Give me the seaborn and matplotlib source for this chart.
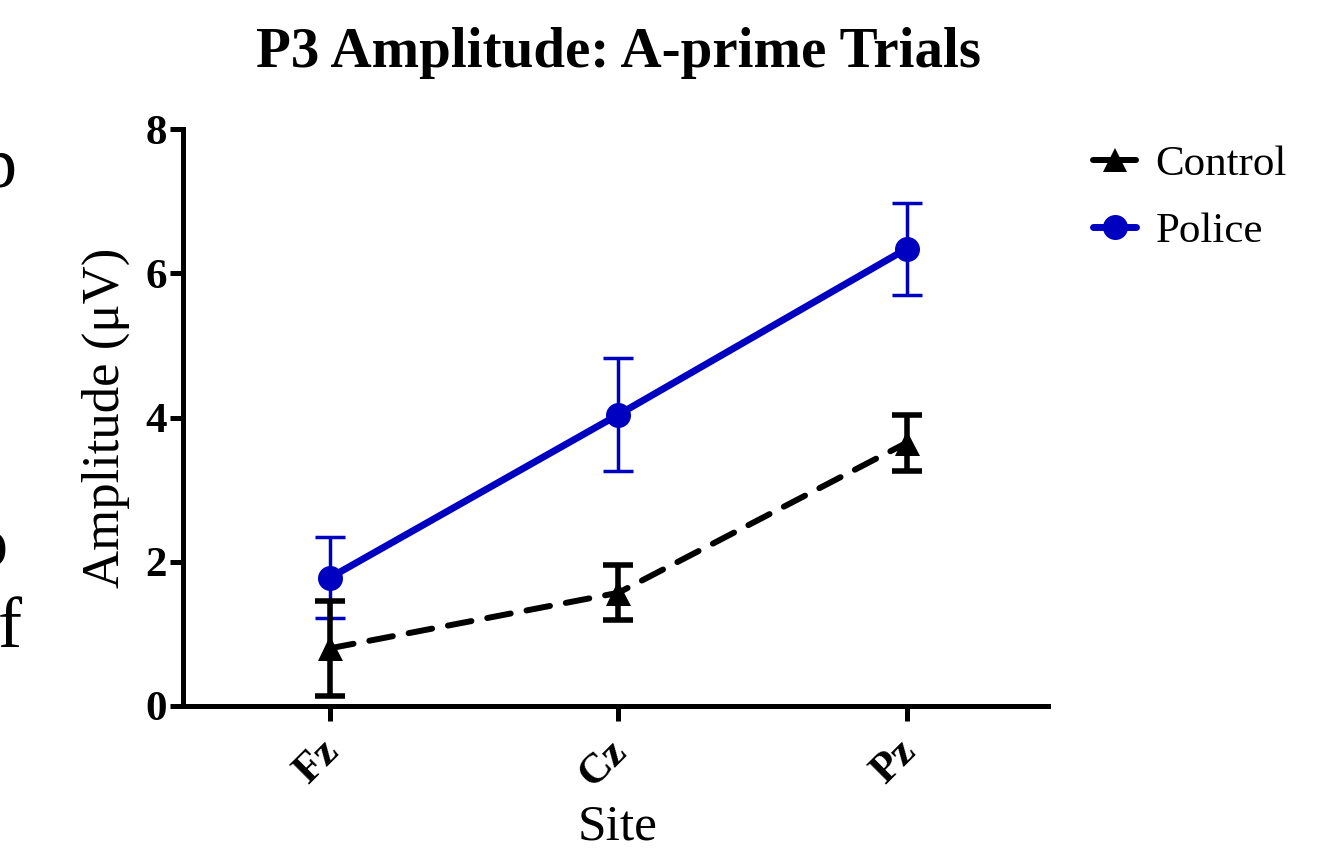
import numpy as np
import pandas as pd
import matplotlib
matplotlib.use("Agg")
import matplotlib.pyplot as plt
import matplotlib.transforms as mtransforms
from matplotlib.lines import Line2D
import seaborn as sns

sites = ["Fz", "Cz", "Pz"]
groups = ["Control", "Police"]
control_mean = [0.80, 1.57, 3.65]
control_sem = [0.66, 0.38, 0.39]
police_mean = [1.78, 4.04, 6.34]
police_sem = [0.56, 0.78, 0.64]

colors = {"Control": "black", "Police": "#0000c0"}

sns.set_theme(style="white")
plt.rcParams["font.family"] = ["Liberation Serif", "DejaVu Serif"]
plt.rcParams.update({"text.color": "black", "axes.labelcolor": "black",
                     "xtick.color": "black", "ytick.color": "black"})

pos = np.arange(len(sites))
df = pd.DataFrame({
    "pos": np.concatenate([pos, pos]),
    "site": sites + sites,
    "group": ["Control"] * 3 + ["Police"] * 3,
    "amp": control_mean + police_mean,
    "sem": control_sem + police_sem,
})

fig = plt.figure(figsize=(13.41, 8.52), dpi=100)
ax = fig.add_axes([183 / 1341, 1 - 706 / 852, (1048 - 183) / 1341, (706 - 129) / 852])

# error bars first
for g, lw, cap in [("Police", 2.5, 10.5), ("Control", 4.0, 11)]:
    d = df[df.group == g]
    eb = ax.errorbar(d["pos"], d["amp"], yerr=d["sem"], fmt="none", ecolor=colors[g],
                     elinewidth=lw, capsize=cap, capthick=lw, zorder=2, clip_on=False)
    for c in eb[1]:
        c.set_solid_capstyle("round" if g == "Control" else "butt")

police = df[df.group == "Police"]
control = df[df.group == "Control"]
sns.lineplot(data=police, x="pos", y="amp", color=colors["Police"], linewidth=5,
             marker="o", markersize=18, markeredgewidth=0, ax=ax, zorder=3, clip_on=False)
sns.lineplot(data=control, x="pos", y="amp", color="black", linewidth=4.3,
             marker="^", markersize=18, markeredgewidth=0, ax=ax, zorder=4, clip_on=False,
             dashes=(4, 2.7))
for ln in ax.lines[-1:]:
    ln.set_dash_capstyle("round")

ax.set_xlim(-0.51, 2.49)
ax.set_ylim(0, 8)
ax.set_yticks([0, 2, 4, 6, 8])
ax.set_xticks(pos)
ax.set_xticklabels(sites, rotation=45, ha="right", rotation_mode="anchor")
sns.despine(ax=ax)
for s in ["left", "bottom"]:
    ax.spines[s].set_linewidth(3.6)
    ax.spines[s].set_color("black")
ax.tick_params(axis="both", which="major", width=3.6, color="black",
               direction="out", labelsize=31, left=True, bottom=True)
ax.tick_params(axis="y", length=9.5, pad=2)
ax.tick_params(axis="x", length=11, pad=8)
shift = mtransforms.ScaledTranslation(-10 / 100, 0, fig.dpi_scale_trans)
for lab in ax.get_xticklabels():
    lab.set_fontweight("bold")
    lab.set_transform(lab.get_transform() + shift)
for lab in ax.get_yticklabels():
    lab.set_fontweight("bold")

ax.set_xlabel("Site", fontsize=37, va="baseline")
ax.xaxis.set_label_coords(0.5 + (618 - 615.5) / 865, -(840 - 706) / 577)
ax.set_ylabel("Amplitude (\u03bcV)", fontsize=38, labelpad=11)

fig.text(618 / 1341, 1 - 53 / 852, "P3 Amplitude: A-prime Trials", fontsize=41,
         fontweight="bold", ha="center", va="center")

handles = [
    Line2D([], [], color="black", linewidth=4.3, marker="^", markersize=17, markeredgewidth=0),
    Line2D([], [], color=colors["Police"], linewidth=5, marker="o", markersize=18, markeredgewidth=0),
]
fig.legend(handles, groups, loc="upper left", bbox_to_anchor=(1076 / 1341, 1 - 128 / 852),
           frameon=False, fontsize=31, handlelength=1.0, handletextpad=0.45,
           labelspacing=0.65, borderaxespad=0)

# cut-off text from the page at the left edge
for ch, xp, yp in [("p", -19, 187), ("o", -29, 565), ("f", -2, 647)]:
    fig.text(xp / 1341, 1 - yp / 852, ch, fontsize=52, ha="left", va="baseline")

fig.savefig("out.png", dpi=100)
